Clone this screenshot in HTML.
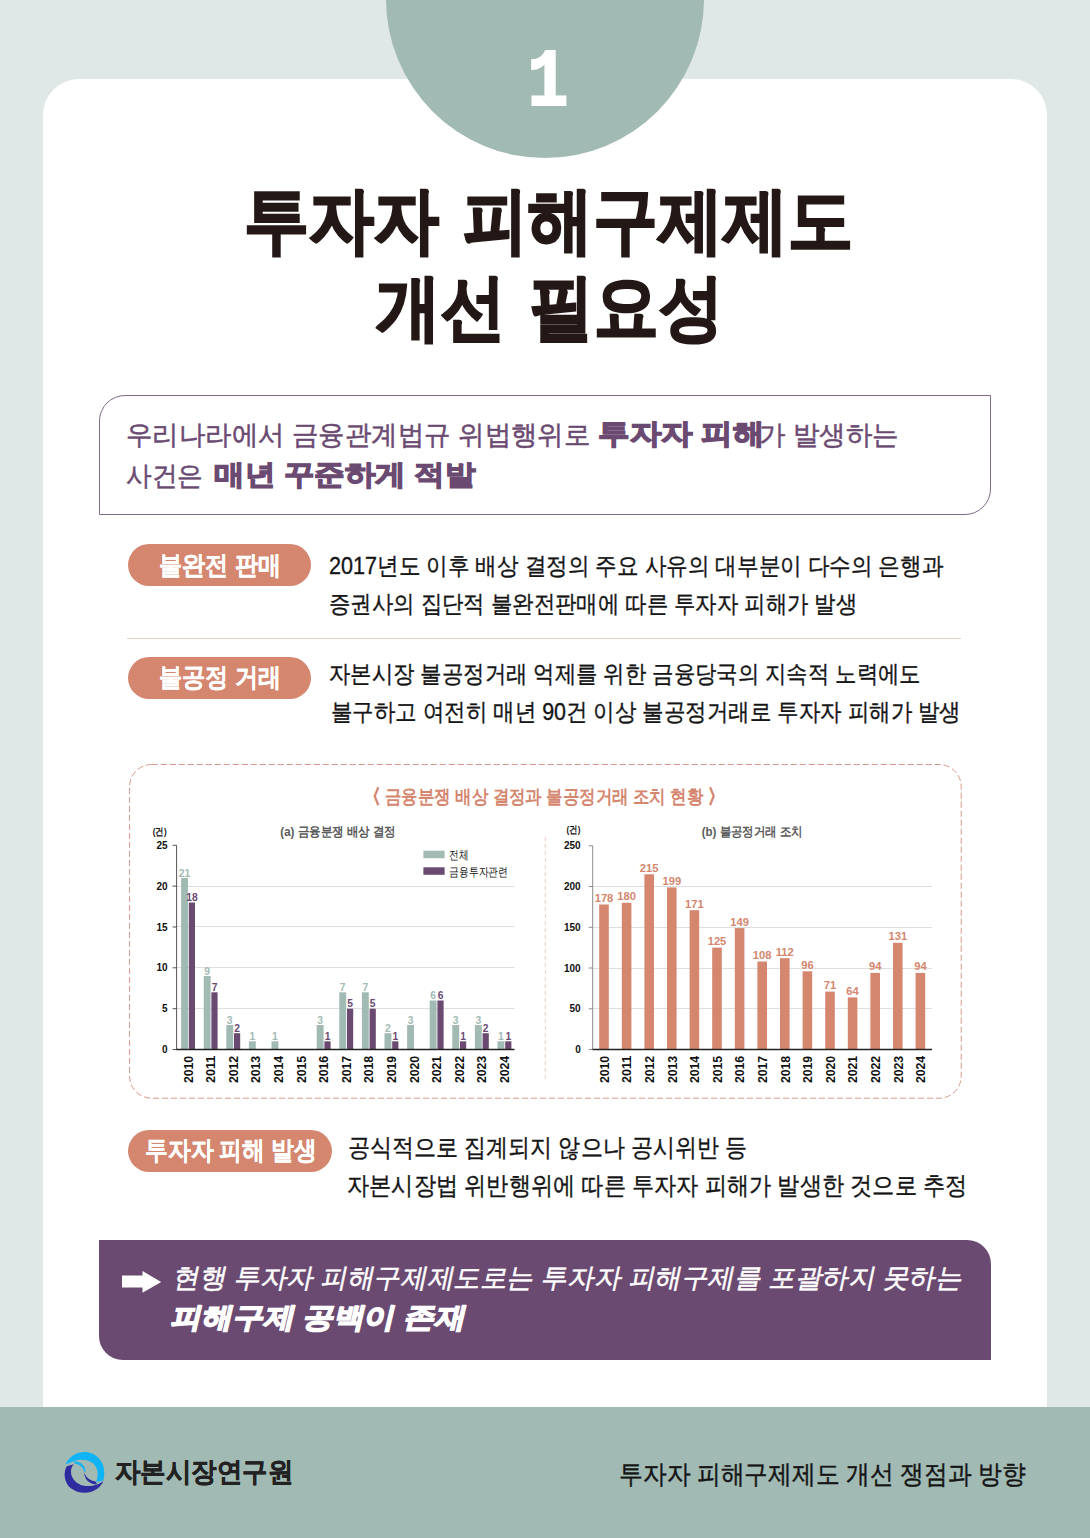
<!DOCTYPE html>
<html lang="ko">
<head>
<meta charset="utf-8">
<title>투자자 피해구제제도 개선 필요성</title>
<style>
html,body{margin:0;padding:0}
body{width:1090px;height:1538px;position:relative;overflow:hidden;background:#DFE8E6;font-family:"Liberation Sans",sans-serif;color:#1c1c1c}
.abs{position:absolute}
.ln{position:absolute;white-space:nowrap;transform-origin:0 0}
.card{position:absolute;left:43px;top:78.5px;width:1004px;height:1340px;background:#fff;border-radius:36px 36px 0 0}
.circle{position:absolute;left:386px;top:-160px;width:318px;height:318px;border-radius:50%;background:#A2BAB4}
.num{position:absolute;left:498px;top:34px;width:100px;text-align:center;font-family:"Liberation Mono",monospace;font-weight:700;font-size:82px;line-height:100px;color:#fff;-webkit-text-stroke:2.2px #fff;transform:scaleX(.83)}
.title{font-weight:700;font-size:72px;line-height:86px;word-spacing:7px;color:#231815;-webkit-text-stroke:2.2px #231815}
.intro{position:absolute;left:99px;top:395px;width:890px;height:118px;border:1px solid #82698A;border-radius:26px 0 26px 0;background:#fff}
.it{color:#6B4A72;font-size:27px;line-height:36px;-webkit-text-stroke:.5px #6B4A72}
.itb{color:#6B4A72;font-weight:700;font-size:28px;line-height:36px;-webkit-text-stroke:1.3px #6B4A72}
.pill{position:absolute;left:128px;height:42px;border-radius:21px;background:#D4866E}
.pt{color:#fff;font-weight:700;font-size:25.5px;line-height:30px;-webkit-text-stroke:.3px #fff}
.tx{font-size:24px;line-height:30px;color:#151515;-webkit-text-stroke:.35px #151515}
.tx3{font-size:25px;line-height:30px;color:#151515;-webkit-text-stroke:.35px #151515}
.sep{position:absolute;left:127px;top:637.6px;width:834px;height:1.2px;background:#E8CFC7}
.pbox{position:absolute;left:99px;top:1240px;width:892px;height:119.5px;background:#6B4A72;border-radius:0 24px 0 24px}
.p1{color:#fff;font-size:27px;line-height:36px;-webkit-text-stroke:.5px #fff}
.p2{color:#fff;font-weight:700;font-size:28px;line-height:40px;-webkit-text-stroke:1.5px #fff}
.footer{position:absolute;left:0;top:1407px;width:1090px;height:131px;background:#A2BAB4}
.org{font-weight:700;font-size:27px;line-height:36px;color:#222;-webkit-text-stroke:.5px #222}
.fr{font-size:25.5px;line-height:36px;color:#151515;-webkit-text-stroke:.4px #151515}
svg.chart{position:absolute;left:0;top:0}
svg text{font-family:"Liberation Sans",sans-serif}
.dl{font-size:10.3px;font-weight:700;text-anchor:middle}
.dl2{font-size:11.2px;font-weight:700;text-anchor:middle}
.yl{font-size:10px;font-weight:700;text-anchor:end;fill:#111}
.xl{font-size:13.2px;font-weight:700;text-anchor:end;fill:#111}
.un{font-size:9.5px;font-weight:700;text-anchor:middle;fill:#111}
.ct{font-size:13px;font-weight:700;text-anchor:middle;fill:#5a5a5a}
.lg{font-size:12px;fill:#111}
.ctitle{color:#D4866E;font-weight:700;font-size:18.5px;line-height:26px}
.br{-webkit-text-stroke:.9px #D4866E}
</style>
</head>
<body>
<div class="card"></div>
<div class="circle"></div>
<div id="num" class="num">1</div>
<div class="intro"></div>
<div class="pill" style="top:544.4px;width:182.6px"></div>
<div class="sep"></div>
<div class="pill" style="top:657.4px;width:182.6px"></div>
<svg class="chart" width="1090" height="1538" viewBox="0 0 1090 1538">
<rect x="129.6" y="764.5" width="831.6" height="333.7" rx="22" ry="22" fill="none" stroke="#D4907C" stroke-width="0.9" stroke-dasharray="6.3 2.7"/>
<line x1="545.3" y1="837" x2="545.3" y2="1082" stroke="#E9CFC6" stroke-width="1" stroke-dasharray="4 3"/>
<line x1="176.6" y1="1008.5" x2="514.5" y2="1008.5" stroke="#DEDEDE" stroke-width="1"/>
<line x1="176.6" y1="967.5" x2="514.5" y2="967.5" stroke="#DEDEDE" stroke-width="1"/>
<line x1="176.6" y1="926.5" x2="514.5" y2="926.5" stroke="#DEDEDE" stroke-width="1"/>
<line x1="176.6" y1="886.5" x2="514.5" y2="886.5" stroke="#DEDEDE" stroke-width="1"/>
<rect x="181.1" y="878.0" width="6.9" height="171.5" fill="#A2BAB4"/>
<text x="184.5" y="876.5" class="dl" fill="#A2BAB4">21</text>
<rect x="188.8" y="902.5" width="6.2" height="147.0" fill="#6B4A72"/>
<text x="191.9" y="901.0" class="dl" fill="#6B4A72">18</text>
<rect x="203.7" y="976.0" width="6.9" height="73.5" fill="#A2BAB4"/>
<text x="207.1" y="974.5" class="dl" fill="#A2BAB4">9</text>
<rect x="211.4" y="992.3" width="6.2" height="57.2" fill="#6B4A72"/>
<text x="214.5" y="990.8" class="dl" fill="#6B4A72">7</text>
<rect x="226.3" y="1025.0" width="6.9" height="24.5" fill="#A2BAB4"/>
<text x="229.7" y="1023.5" class="dl" fill="#A2BAB4">3</text>
<rect x="234.0" y="1033.2" width="6.2" height="16.3" fill="#6B4A72"/>
<text x="237.1" y="1031.7" class="dl" fill="#6B4A72">2</text>
<rect x="248.9" y="1041.3" width="6.9" height="8.2" fill="#A2BAB4"/>
<text x="252.3" y="1039.8" class="dl" fill="#A2BAB4">1</text>
<rect x="271.5" y="1041.3" width="6.9" height="8.2" fill="#A2BAB4"/>
<text x="274.9" y="1039.8" class="dl" fill="#A2BAB4">1</text>
<rect x="316.7" y="1025.0" width="6.9" height="24.5" fill="#A2BAB4"/>
<text x="320.1" y="1023.5" class="dl" fill="#A2BAB4">3</text>
<rect x="324.4" y="1041.3" width="6.2" height="8.2" fill="#6B4A72"/>
<text x="327.5" y="1039.8" class="dl" fill="#6B4A72">1</text>
<rect x="339.3" y="992.3" width="6.9" height="57.2" fill="#A2BAB4"/>
<text x="342.7" y="990.8" class="dl" fill="#A2BAB4">7</text>
<rect x="347.0" y="1008.7" width="6.2" height="40.8" fill="#6B4A72"/>
<text x="350.1" y="1007.2" class="dl" fill="#6B4A72">5</text>
<rect x="361.9" y="992.3" width="6.9" height="57.2" fill="#A2BAB4"/>
<text x="365.3" y="990.8" class="dl" fill="#A2BAB4">7</text>
<rect x="369.6" y="1008.7" width="6.2" height="40.8" fill="#6B4A72"/>
<text x="372.7" y="1007.2" class="dl" fill="#6B4A72">5</text>
<rect x="384.5" y="1033.2" width="6.9" height="16.3" fill="#A2BAB4"/>
<text x="387.9" y="1031.7" class="dl" fill="#A2BAB4">2</text>
<rect x="392.2" y="1041.3" width="6.2" height="8.2" fill="#6B4A72"/>
<text x="395.3" y="1039.8" class="dl" fill="#6B4A72">1</text>
<rect x="407.1" y="1025.0" width="6.9" height="24.5" fill="#A2BAB4"/>
<text x="410.5" y="1023.5" class="dl" fill="#A2BAB4">3</text>
<rect x="429.7" y="1000.5" width="6.9" height="49.0" fill="#A2BAB4"/>
<text x="433.1" y="999.0" class="dl" fill="#A2BAB4">6</text>
<rect x="437.4" y="1000.5" width="6.2" height="49.0" fill="#6B4A72"/>
<text x="440.5" y="999.0" class="dl" fill="#6B4A72">6</text>
<rect x="452.3" y="1025.0" width="6.9" height="24.5" fill="#A2BAB4"/>
<text x="455.7" y="1023.5" class="dl" fill="#A2BAB4">3</text>
<rect x="460.0" y="1041.3" width="6.2" height="8.2" fill="#6B4A72"/>
<text x="463.1" y="1039.8" class="dl" fill="#6B4A72">1</text>
<rect x="474.9" y="1025.0" width="6.9" height="24.5" fill="#A2BAB4"/>
<text x="478.3" y="1023.5" class="dl" fill="#A2BAB4">3</text>
<rect x="482.6" y="1033.2" width="6.2" height="16.3" fill="#6B4A72"/>
<text x="485.7" y="1031.7" class="dl" fill="#6B4A72">2</text>
<rect x="497.5" y="1041.3" width="6.9" height="8.2" fill="#A2BAB4"/>
<text x="500.9" y="1039.8" class="dl" fill="#A2BAB4">1</text>
<rect x="505.2" y="1041.3" width="6.2" height="8.2" fill="#6B4A72"/>
<text x="508.3" y="1039.8" class="dl" fill="#6B4A72">1</text>
<line x1="176.6" y1="845.3" x2="176.6" y2="1049.5" stroke="#555" stroke-width="1"/>
<line x1="176.1" y1="1049.5" x2="514.5" y2="1049.5" stroke="#222" stroke-width="1.3"/>
<line x1="172.6" y1="1049.5" x2="176.6" y2="1049.5" stroke="#555" stroke-width="1"/>
<text x="167.6" y="1053.1" class="yl">0</text>
<line x1="172.6" y1="1008.7" x2="176.6" y2="1008.7" stroke="#555" stroke-width="1"/>
<text x="167.6" y="1012.3" class="yl">5</text>
<line x1="172.6" y1="967.8" x2="176.6" y2="967.8" stroke="#555" stroke-width="1"/>
<text x="167.6" y="971.4" class="yl">10</text>
<line x1="172.6" y1="927.0" x2="176.6" y2="927.0" stroke="#555" stroke-width="1"/>
<text x="167.6" y="930.6" class="yl">15</text>
<line x1="172.6" y1="886.1" x2="176.6" y2="886.1" stroke="#555" stroke-width="1"/>
<text x="167.6" y="889.7" class="yl">20</text>
<line x1="172.6" y1="845.3" x2="176.6" y2="845.3" stroke="#555" stroke-width="1"/>
<text x="167.6" y="848.9" class="yl">25</text>
<text transform="translate(192.6,1055.8) rotate(-90)" class="xl" textLength="27.3" lengthAdjust="spacingAndGlyphs">2010</text>
<text transform="translate(215.2,1055.8) rotate(-90)" class="xl" textLength="27.3" lengthAdjust="spacingAndGlyphs">2011</text>
<text transform="translate(237.8,1055.8) rotate(-90)" class="xl" textLength="27.3" lengthAdjust="spacingAndGlyphs">2012</text>
<text transform="translate(260.4,1055.8) rotate(-90)" class="xl" textLength="27.3" lengthAdjust="spacingAndGlyphs">2013</text>
<text transform="translate(283.0,1055.8) rotate(-90)" class="xl" textLength="27.3" lengthAdjust="spacingAndGlyphs">2014</text>
<text transform="translate(305.6,1055.8) rotate(-90)" class="xl" textLength="27.3" lengthAdjust="spacingAndGlyphs">2015</text>
<text transform="translate(328.2,1055.8) rotate(-90)" class="xl" textLength="27.3" lengthAdjust="spacingAndGlyphs">2016</text>
<text transform="translate(350.8,1055.8) rotate(-90)" class="xl" textLength="27.3" lengthAdjust="spacingAndGlyphs">2017</text>
<text transform="translate(373.4,1055.8) rotate(-90)" class="xl" textLength="27.3" lengthAdjust="spacingAndGlyphs">2018</text>
<text transform="translate(396.0,1055.8) rotate(-90)" class="xl" textLength="27.3" lengthAdjust="spacingAndGlyphs">2019</text>
<text transform="translate(418.6,1055.8) rotate(-90)" class="xl" textLength="27.3" lengthAdjust="spacingAndGlyphs">2020</text>
<text transform="translate(441.2,1055.8) rotate(-90)" class="xl" textLength="27.3" lengthAdjust="spacingAndGlyphs">2021</text>
<text transform="translate(463.8,1055.8) rotate(-90)" class="xl" textLength="27.3" lengthAdjust="spacingAndGlyphs">2022</text>
<text transform="translate(486.4,1055.8) rotate(-90)" class="xl" textLength="27.3" lengthAdjust="spacingAndGlyphs">2023</text>
<text transform="translate(509.0,1055.8) rotate(-90)" class="xl" textLength="27.3" lengthAdjust="spacingAndGlyphs">2024</text>
<text x="159.7" y="835.2" class="un" textLength="13.8" lengthAdjust="spacingAndGlyphs">(건)</text>
<text x="338.1" y="836.2" class="ct" textLength="115.6" lengthAdjust="spacingAndGlyphs">(a) 금융분쟁 배상 결정</text>
<rect x="423.4" y="850.7" width="21.2" height="7.5" fill="#A2BAB4"/>
<rect x="423.4" y="867.3" width="21.2" height="7.5" fill="#6B4A72"/>
<text x="449" y="859.3" class="lg" textLength="19.3" lengthAdjust="spacingAndGlyphs">전체</text>
<text x="449" y="875.8" class="lg" textLength="59" lengthAdjust="spacingAndGlyphs">금융투자관련</text>
<line x1="592.7" y1="1008.5" x2="932" y2="1008.5" stroke="#DEDEDE" stroke-width="1"/>
<line x1="592.7" y1="968.5" x2="932" y2="968.5" stroke="#DEDEDE" stroke-width="1"/>
<line x1="592.7" y1="927.5" x2="932" y2="927.5" stroke="#DEDEDE" stroke-width="1"/>
<line x1="592.7" y1="886.5" x2="932" y2="886.5" stroke="#DEDEDE" stroke-width="1"/>
<rect x="599.2" y="904.5" width="9.6" height="145.0" fill="#D4866E"/>
<text x="604.0" y="902.0" class="dl2" fill="#D4866E">178</text>
<rect x="621.8" y="902.8" width="9.6" height="146.7" fill="#D4866E"/>
<text x="626.6" y="900.3" class="dl2" fill="#D4866E">180</text>
<rect x="644.4" y="874.3" width="9.6" height="175.2" fill="#D4866E"/>
<text x="649.2" y="871.8" class="dl2" fill="#D4866E">215</text>
<rect x="667.0" y="887.4" width="9.6" height="162.1" fill="#D4866E"/>
<text x="671.8" y="884.9" class="dl2" fill="#D4866E">199</text>
<rect x="689.6" y="910.2" width="9.6" height="139.3" fill="#D4866E"/>
<text x="694.4" y="907.7" class="dl2" fill="#D4866E">171</text>
<rect x="712.2" y="947.6" width="9.6" height="101.9" fill="#D4866E"/>
<text x="717.0" y="945.1" class="dl2" fill="#D4866E">125</text>
<rect x="734.8" y="928.1" width="9.6" height="121.4" fill="#D4866E"/>
<text x="739.6" y="925.6" class="dl2" fill="#D4866E">149</text>
<rect x="757.4" y="961.5" width="9.6" height="88.0" fill="#D4866E"/>
<text x="762.2" y="959.0" class="dl2" fill="#D4866E">108</text>
<rect x="780.0" y="958.2" width="9.6" height="91.3" fill="#D4866E"/>
<text x="784.8" y="955.7" class="dl2" fill="#D4866E">112</text>
<rect x="802.6" y="971.3" width="9.6" height="78.2" fill="#D4866E"/>
<text x="807.4" y="968.8" class="dl2" fill="#D4866E">96</text>
<rect x="825.2" y="991.6" width="9.6" height="57.9" fill="#D4866E"/>
<text x="830.0" y="989.1" class="dl2" fill="#D4866E">71</text>
<rect x="847.8" y="997.4" width="9.6" height="52.1" fill="#D4866E"/>
<text x="852.6" y="994.9" class="dl2" fill="#D4866E">64</text>
<rect x="870.4" y="972.9" width="9.6" height="76.6" fill="#D4866E"/>
<text x="875.2" y="970.4" class="dl2" fill="#D4866E">94</text>
<rect x="893.0" y="942.8" width="9.6" height="106.7" fill="#D4866E"/>
<text x="897.8" y="940.3" class="dl2" fill="#D4866E">131</text>
<rect x="915.6" y="972.9" width="9.6" height="76.6" fill="#D4866E"/>
<text x="920.4" y="970.4" class="dl2" fill="#D4866E">94</text>
<line x1="592.7" y1="845.8" x2="592.7" y2="1049.5" stroke="#8C8C8C" stroke-width="1"/>
<line x1="592.2" y1="1049.5" x2="932" y2="1049.5" stroke="#222" stroke-width="1.3"/>
<line x1="588.7" y1="1049.5" x2="592.7" y2="1049.5" stroke="#8C8C8C" stroke-width="1"/>
<text x="580.7" y="1053.1" class="yl">0</text>
<line x1="588.7" y1="1008.8" x2="592.7" y2="1008.8" stroke="#8C8C8C" stroke-width="1"/>
<text x="580.7" y="1012.4" class="yl">50</text>
<line x1="588.7" y1="968.0" x2="592.7" y2="968.0" stroke="#8C8C8C" stroke-width="1"/>
<text x="580.7" y="971.6" class="yl">100</text>
<line x1="588.7" y1="927.3" x2="592.7" y2="927.3" stroke="#8C8C8C" stroke-width="1"/>
<text x="580.7" y="930.9" class="yl">150</text>
<line x1="588.7" y1="886.5" x2="592.7" y2="886.5" stroke="#8C8C8C" stroke-width="1"/>
<text x="580.7" y="890.1" class="yl">200</text>
<line x1="588.7" y1="845.8" x2="592.7" y2="845.8" stroke="#8C8C8C" stroke-width="1"/>
<text x="580.7" y="849.4" class="yl">250</text>
<text transform="translate(608.7,1055.8) rotate(-90)" class="xl" textLength="27.3" lengthAdjust="spacingAndGlyphs">2010</text>
<text transform="translate(631.3,1055.8) rotate(-90)" class="xl" textLength="27.3" lengthAdjust="spacingAndGlyphs">2011</text>
<text transform="translate(653.9,1055.8) rotate(-90)" class="xl" textLength="27.3" lengthAdjust="spacingAndGlyphs">2012</text>
<text transform="translate(676.5,1055.8) rotate(-90)" class="xl" textLength="27.3" lengthAdjust="spacingAndGlyphs">2013</text>
<text transform="translate(699.1,1055.8) rotate(-90)" class="xl" textLength="27.3" lengthAdjust="spacingAndGlyphs">2014</text>
<text transform="translate(721.7,1055.8) rotate(-90)" class="xl" textLength="27.3" lengthAdjust="spacingAndGlyphs">2015</text>
<text transform="translate(744.3,1055.8) rotate(-90)" class="xl" textLength="27.3" lengthAdjust="spacingAndGlyphs">2016</text>
<text transform="translate(766.9,1055.8) rotate(-90)" class="xl" textLength="27.3" lengthAdjust="spacingAndGlyphs">2017</text>
<text transform="translate(789.5,1055.8) rotate(-90)" class="xl" textLength="27.3" lengthAdjust="spacingAndGlyphs">2018</text>
<text transform="translate(812.1,1055.8) rotate(-90)" class="xl" textLength="27.3" lengthAdjust="spacingAndGlyphs">2019</text>
<text transform="translate(834.7,1055.8) rotate(-90)" class="xl" textLength="27.3" lengthAdjust="spacingAndGlyphs">2020</text>
<text transform="translate(857.3,1055.8) rotate(-90)" class="xl" textLength="27.3" lengthAdjust="spacingAndGlyphs">2021</text>
<text transform="translate(879.9,1055.8) rotate(-90)" class="xl" textLength="27.3" lengthAdjust="spacingAndGlyphs">2022</text>
<text transform="translate(902.5,1055.8) rotate(-90)" class="xl" textLength="27.3" lengthAdjust="spacingAndGlyphs">2023</text>
<text transform="translate(925.1,1055.8) rotate(-90)" class="xl" textLength="27.3" lengthAdjust="spacingAndGlyphs">2024</text>
<text x="573.4" y="833.4" class="un" textLength="13.8" lengthAdjust="spacingAndGlyphs">(건)</text>
<text x="752.3" y="836.2" class="ct" textLength="101" lengthAdjust="spacingAndGlyphs">(b) 불공정거래 조치</text>
</svg>
<div class="pill" style="top:1130.2px;width:203.6px"></div>
<div class="pbox"></div>
<svg class="abs" style="left:122px;top:1271px" width="40" height="22" viewBox="0 0 40 22"><polygon points="0,4.6 20.5,4.6 20.5,0 39.2,10.9 20.5,21.8 20.5,16.5 0,16.5" fill="#fff"/></svg>
<div class="footer"></div>
<svg class="abs" style="left:55px;top:1445px" width="60" height="60" viewBox="0 0 1090 1090">
<path d="M190,352 C250,205 400,125 535,125 C740,125 895,290 895,495 C895,555 890,605 876,645 L748,672 C792,560 790,430 700,340 C620,265 450,250 350,292 C290,312 235,342 190,352Z" fill="#10B4F5"/>
<path d="M352,296 C455,296 565,380 552,492 L534,492 C520,410 450,352 356,336Z" fill="#10B4F5"/>
<path d="M342,348 L214,384 C145,500 165,690 295,792 C430,895 640,895 775,792 C826,750 862,696 882,648 C800,722 650,762 530,740 C400,716 290,620 290,480 C290,430 310,385 342,348Z" fill="#2E2C9E"/>
<path d="M530,496 C555,585 640,650 735,664 L768,714 C650,730 528,632 530,496Z" fill="#2E2C9E"/>
</svg>
<div id="t1" class="ln title" style="left:244.05px;top:177.00px;transform:scaleX(0.9026)">투자자 피해구제제도</div>
<div id="t2" class="ln title" style="left:375.74px;top:263.70px;transform:scaleX(0.8975)">개선 필요성</div>
<div id="i1a" class="ln it" style="left:125.63px;top:416.80px;transform:scaleX(0.9796)">우리나라에서 금융관계법규 위법행위로</div>
<div id="i1b" class="ln itb" style="left:597.87px;top:415.60px;transform:scaleX(1.1252)">투자자 피해</div>
<div id="i1c" class="ln it" style="left:759.44px;top:416.80px;transform:scaleX(0.9814)">가 발생하는</div>
<div id="i2a" class="ln it" style="left:126.47px;top:458.30px;transform:scaleX(0.9519)">사건은</div>
<div id="i2b" class="ln itb" style="left:213.91px;top:457.30px;transform:scaleX(1.0917)">매년 꾸준하게 적발</div>
<div id="k1" class="ln pt" style="left:159.25px;top:549.80px;transform:scaleX(0.8890)">불완전 판매</div>
<div id="r1a" class="ln tx" style="left:328.97px;top:550.60px;transform:scaleX(0.8997)">2017년도 이후 배상 결정의 주요 사유의 대부분이 다수의 은행과</div>
<div id="r1b" class="ln tx" style="left:329.09px;top:588.60px;transform:scaleX(0.8923)">증권사의 집단적 불완전판매에 따른 투자자 피해가 발생</div>
<div id="k2" class="ln pt" style="left:159.25px;top:662.30px;transform:scaleX(0.8890)">불공정 거래</div>
<div id="r2a" class="ln tx" style="left:328.97px;top:659.20px;transform:scaleX(0.8912)">자본시장 불공정거래 억제를 위한 금융당국의 지속적 노력에도</div>
<div id="r2b" class="ln tx" style="left:330.76px;top:696.50px;transform:scaleX(0.8947)">불구하고 여전히 매년 90건 이상 불공정거래로 투자자 피해가 발생</div>
<div id="ctitle" class="ln ctitle" style="left:364.32px;top:783.50px;transform:scaleX(0.8659)"><span class="br">〈</span> 금융분쟁 배상 결정과 불공정거래 조치 현황 <span class="br">〉</span></div>
<div id="k3" class="ln pt" style="left:145.03px;top:1134.90px;transform:scaleX(0.8754)">투자자 피해 발생</div>
<div id="r3a" class="ln tx3" style="left:347.52px;top:1132.00px;transform:scaleX(0.8811)">공식적으로 집계되지 않으나 공시위반 등</div>
<div id="r3b" class="ln tx3" style="left:347.40px;top:1170.00px;transform:scaleX(0.8881)">자본시장법 위반행위에 따른 투자자 피해가 발생한 것으로 추정</div>
<div id="p1" class="ln p1" style="left:178.27px;top:1260.30px;transform:scaleX(0.9852) skewX(-12deg)">현행 투자자 피해구제제도로는 투자자 피해구제를 포괄하지 못하는</div>
<div id="p2" class="ln p2" style="left:176.53px;top:1297.60px;transform:scaleX(1.0993) skewX(-12deg)">피해구제 공백이 존재</div>
<div id="org" class="ln org" style="left:114.54px;top:1453.70px;transform:scaleX(0.9437)">자본시장연구원</div>
<div id="fr" class="ln fr" style="left:618.74px;top:1455.70px;transform:scaleX(0.9152)">투자자 피해구제제도 개선 쟁점과 방향</div>
</body>
</html>
